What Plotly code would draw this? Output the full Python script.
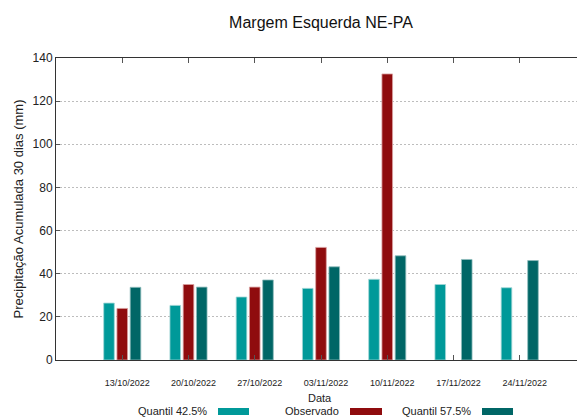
import plotly.graph_objects as go

dates = ["13/10/2022", "20/10/2022", "27/10/2022", "03/11/2022",
         "10/11/2022", "17/11/2022", "24/11/2022"]
q425 = [26.4, 25.3, 29.2, 33.2, 37.4, 35.0, 33.5]
observado = [23.9, 35.0, 33.8, 52.2, 132.6, None, None]
q575 = [33.7, 33.8, 37.1, 43.2, 48.3, 46.6, 46.1]

series_names = ["Quantil 42.5%", "Observado", "Quantil 57.5%"]
colors = ["#009999", "#8f0c0e", "#006666"]
edge_colors = ["#9fd6d6", "#d9a0a0", "#8fbcbc"]

W, H = 585, 418
OFF = 8  # page body margin of the browser
ML, MR, MT, MB = 48, 7, 50, 66
PW, PH = W - ML - MR, H - MT - MB

fig = go.Figure()
for name, vals, c, ec in zip(series_names, [q425, observado, q575], colors, edge_colors):
    fig.add_trace(go.Bar(x=dates, y=vals, name=name, marker_color=c,
                         marker_line=dict(color=ec, width=0.8), showlegend=False))

font = "Liberation Sans, Arial, sans-serif"

def px_x(p):
    return (p - OFF - ML) / PW

def px_y(p):
    return (H - MB - (p - OFF)) / PH

annotations = []
shapes = []
legend_items = [
    ("Quantil 42.5%", 209, 218, 249, colors[0]),
    ("Observado", 341, 350, 382, colors[1]),
    ("Quantil 57.5%", 473, 482, 513, colors[2]),
]
for text, tx, s0, s1, c in legend_items:
    annotations.append(dict(text=text, x=px_x(tx), y=px_y(411), xref="paper", yref="paper",
                            xanchor="right", yanchor="middle", showarrow=False,
                            font=dict(family=font, size=11, color="#222")))
    shapes.append(dict(type="rect", xref="paper", yref="paper",
                       x0=px_x(s0), x1=px_x(s1), y0=px_y(415), y1=px_y(408),
                       fillcolor=c, line=dict(width=0)))
annotations.append(dict(text="Data", x=px_x(320), y=px_y(398), xref="paper", yref="paper",
                        xanchor="center", yanchor="middle", showarrow=False,
                        font=dict(family=font, size=11, color="#222")))

fig.update_layout(
    width=W, height=H,
    margin=dict(l=ML, r=MR, t=MT, b=MB),
    paper_bgcolor="white", plot_bgcolor="white",
    barmode="group", bargap=0.4, bargroupgap=0.2,
    font=dict(family=font, color="#222"),
    title=dict(text="Margem Esquerda NE-PA", x=0.5, xref="paper",
               y=1 - (22 - OFF) / H, yref="container", yanchor="middle",
               font=dict(family=font, size=16, color="#111")),
    annotations=annotations, shapes=shapes,
)
fig.update_xaxes(type="category", range=[-1, 7], showline=True, linecolor="#333", linewidth=1,
                 mirror="allticks", ticks="inside", ticklen=5, tickcolor="#555",
                 showgrid=False, tickfont=dict(family=font, size=9, color="#222"),
                 ticklabelstandoff=14, ticklabelshift=5)
fig.update_yaxes(range=[0, 140], dtick=20, showline=True, linecolor="#333", linewidth=1,
                 mirror=False, ticks="inside", ticklen=4, tickcolor="#555",
                 showgrid=True, gridcolor="#bdbdbd", griddash="2px,2px", gridwidth=1,
                 zeroline=False, tickfont=dict(family=font, size=12, color="#222"),
                 title=dict(text="Precipitação Acumulada 30 dias (mm)", standoff=6,
                            font=dict(family=font, size=13, color="#222")))

fig.write_html("out.html")
